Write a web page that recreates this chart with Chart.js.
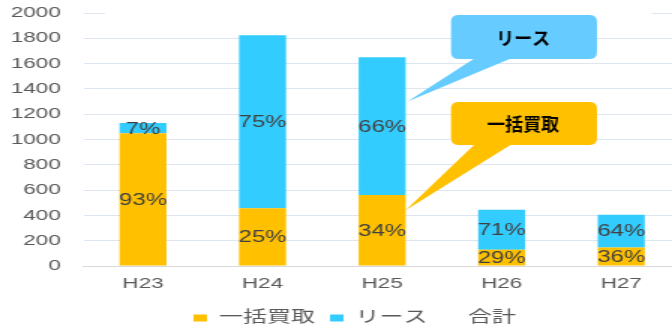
<!DOCTYPE html>
<html lang="ja">
<head>
<meta charset="utf-8">
<script src="https://cdn.jsdelivr.net/npm/chart.js@4.4.1/dist/chart.umd.min.js"></script>
<style>
  html, body { margin: 0; padding: 0; background: #fff; overflow: hidden; }
  #wrap {
    position: relative;
    width: 460px;
    height: 326px;
    transform: scaleX(1.5);
    transform-origin: 0 0;
  }
</style>
</head>
<body>
<div id="wrap"><canvas id="myChart"></canvas></div>
<script>
// 年度ごとの導入件数
var years = ["H23", "H24", "H25", "H26", "H27"];
var lumpSum = [1050, 456, 561, 129, 146];   // 一括買取
var lease = [80, 1369, 1089, 315, 260];     // リース
var yTicks = [0, 200, 400, 600, 800, 1000, 1200, 1400, 1600, 1800, 2000];

var totals = lumpSum.map(function (v, i) { return v + lease[i]; });

var STRETCH = 1.5; // the wrapper is stretched sideways by this much
var FONT = "'Liberation Sans', 'Noto Sans CJK JP', sans-serif";

Chart.defaults.font.family = FONT;
Chart.defaults.color = "#595959";

// percentage inside each bar segment
var pctLabels = {
  id: "pctLabels",
  afterDatasetsDraw: function (chart) {
    var ctx = chart.ctx;
    ctx.save();
    ctx.font = "16px " + FONT;
    ctx.fillStyle = "#404040";
    ctx.textAlign = "center";
    ctx.textBaseline = "middle";
    [0, 1].forEach(function (di) {
      var meta = chart.getDatasetMeta(di);
      var data = chart.data.datasets[di].data;
      meta.data.forEach(function (bar, i) {
        var pct = Math.round(data[i] / totals[i] * 100);
        ctx.fillText(pct + "%", bar.x, (bar.y + bar.base) / 2 + 1);
      });
    });
    ctx.restore();
  }
};

// nudge the legend a little to the right of centre
var legendShift = {
  id: "legendShift",
  afterLayout: function (chart) {
    chart.legend.left += 9.5;
    chart.legend.right += 9.5;
  }
};

function roundRect(ctx, x, y, w, h, r) {
  ctx.beginPath();
  ctx.moveTo(x + r, y);
  ctx.lineTo(x + w - r, y);
  ctx.quadraticCurveTo(x + w, y, x + w, y + r);
  ctx.lineTo(x + w, y + h - r);
  ctx.quadraticCurveTo(x + w, y + h, x + w - r, y + h);
  ctx.lineTo(x + r, y + h);
  ctx.quadraticCurveTo(x, y + h, x, y + h - r);
  ctx.lineTo(x, y + r);
  ctx.quadraticCurveTo(x, y, x + r, y);
  ctx.closePath();
}

function callout(ctx, text, color, box, tipX, tipY) {
  ctx.fillStyle = color;
  roundRect(ctx, box.x, box.y, box.w, box.h, 7);
  ctx.fill();
  ctx.beginPath();
  ctx.moveTo(box.x + 24, box.y + box.h - 1);
  ctx.lineTo(box.x + 61, box.y + box.h - 1);
  ctx.lineTo(tipX, tipY);
  ctx.closePath();
  ctx.fill();
  ctx.fillStyle = "#000";
  ctx.font = "bold 18px 'Noto Sans CJK JP', sans-serif";
  ctx.textAlign = "center";
  ctx.textBaseline = "middle";
  ctx.fillText(text, box.x + box.w / 2 - 1, box.y + box.h / 2 + 1);
}

// title backing and the two speech bubbles, drawn unstretched
var bubbles = {
  id: "bubbles",
  afterDraw: function (chart) {
    var ctx = chart.ctx;
    var y = chart.scales.y;
    var bar = chart.getDatasetMeta(1).data[2];
    var tipX = (bar.x + bar.width / 2) * STRETCH + 2;
    ctx.save();
    ctx.scale(1 / STRETCH, 1);
    ctx.fillStyle = "#fff";
    ctx.fillRect(105, 0, 547, 15);
    callout(ctx, "リース", "#66CCFF", { x: 451, y: 15, w: 146, h: 44 },
      tipX, y.getPixelForValue(1300));
    callout(ctx, "一括買取", "#FFC000", { x: 451, y: 102, w: 146, h: 43 },
      tipX - 2, y.getPixelForValue(440));
    ctx.restore();
  }
};

var ctx = document.getElementById("myChart");

var myChart = new Chart(ctx, {
  type: "bar",
  data: {
    labels: years,
    datasets: [
      {
        label: "一括買取",
        data: lumpSum,
        backgroundColor: "#FFC000",
        borderWidth: 0,
        stack: "s"
      },
      {
        label: "リース",
        data: lease,
        backgroundColor: "#33CCFF",
        borderWidth: 0,
        stack: "s"
      },
      {
        type: "line",
        label: "合計",
        data: totals,
        borderColor: "rgba(0,0,0,0)",
        backgroundColor: "rgba(0,0,0,0)",
        pointRadius: 0,
        stack: "total"
      }
    ]
  },
  options: {
    responsive: true,
    maintainAspectRatio: false,
    animation: false,
    barPercentage: 0.393,
    categoryPercentage: 1,
    layout: { padding: { top: 13, right: 6, left: 0, bottom: -10 } },
    scales: {
      x: {
        stacked: true,
        grid: { display: false, drawTicks: false },
        border: { color: "#d9d9d9", width: 1 },
        afterFit: function (s) { s.height = 34; },
        ticks: { font: { size: 15 }, padding: 9 }
      },
      y: {
        stacked: true,
        min: 0,
        max: 2000,
        afterBuildTicks: function (s) {
          s.ticks = yTicks.map(function (v) { return { value: v }; });
        },
        afterFit: function (s) {
          s.width = 55.5;
          s.paddingTop = 0;
          s.paddingBottom = 0;
        },
        grid: { color: "#dde5f0", drawTicks: false },
        border: { display: false },
        ticks: {
          font: { size: 15 },
          padding: 15,
          callback: function (v) { return String(v); }
        }
      }
    },
    plugins: {
      legend: {
        position: "bottom",
        labels: {
          font: { size: 16 },
          color: "#595959",
          boxWidth: 9,
          boxHeight: 7,
          padding: 10
        }
      },
      tooltip: { enabled: false }
    }
  },
  plugins: [pctLabels, legendShift, bubbles]
});
</script>
</body>
</html>
